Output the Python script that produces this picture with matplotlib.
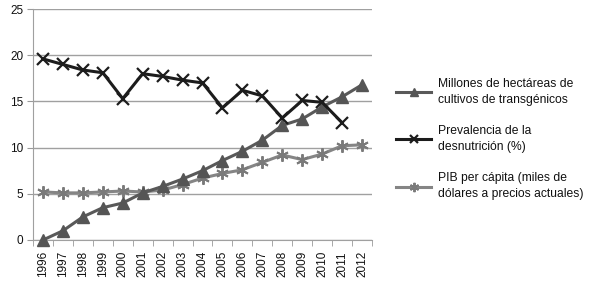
import matplotlib
matplotlib.use('Agg')
import matplotlib.pyplot as plt
import numpy as np

years = ['1996', '1997', '1998', '1999', '2000', '2001', '2002', '2003', '2004',
         '2005', '2006', '2007', '2008', '2009', '2010', '2011', '2012']

# Millones de hectáreas de cultivos transgénicos
transgenicos = [0.0, 1.0, 2.5, 3.5, 4.0, 5.1, 5.8, 6.6, 7.5, 8.6, 9.6, 10.8,
                12.4, 13.1, 14.4, 15.5, 16.8]
# Prevalencia de la desnutrición (%), sin dato para 2012
desnutricion = [19.6, 19.0, 18.4, 18.1, 15.3, 18.0, 17.7, 17.3, 17.0, 14.3,
                16.2, 15.6, 13.2, 15.1, 14.9, 12.7, np.nan]
# PIB per cápita (miles de dólares)
pib = [5.2, 5.1, 5.1, 5.2, 5.3, 5.2, 5.4, 6.0, 6.7, 7.2, 7.6, 8.4, 9.2, 8.7,
       9.3, 10.2, 10.3]

labels = ['Millones de hectáreas de\ncultivos de transgénicos',
          'Prevalencia de la\ndesnutrición (%)',
          'PIB per cápita (miles de\ndólares a precios actuales)']

plt.rcParams['font.family'] = ['Liberation Sans', 'DejaVu Sans']
plt.rcParams['font.size'] = 8.5

fig = plt.figure(figsize=(5.89, 2.83), dpi=100)
W, H = 589, 283
ax = fig.add_axes([33 / W, 1 - 240 / H, 339 / W, 231 / H])

x = np.arange(len(years))

ax.plot(x, transgenicos, color='#595959', lw=2.2, marker='^', ms=8,
        mfc='#555555', mec='#555555', clip_on=False, zorder=4, label=labels[0])
ax.plot(x, desnutricion, color='#1c1c1c', lw=2.2, marker='x', ms=8.5, mew=1.6,
        clip_on=False, zorder=5, label=labels[1])
ax.plot(x, pib, color='#858585', lw=2.2, marker=(6, 2, 0), ms=9, mew=1.4,
        mec='#7a7a7a', clip_on=False, zorder=3, label=labels[2])

ax.set_xlim(-0.5, len(years) - 0.5)
ax.set_ylim(0, 25)
ax.set_yticks(np.arange(0, 26, 5))
ax.set_xticks(x)
ax.set_xticklabels(years, rotation=90)
ax.set_xticks(np.arange(-0.5, len(years), 1), minor=True)

ax.tick_params(axis='x', which='major', length=0, pad=8, colors='#111111')
ax.tick_params(axis='x', which='minor', length=4, color='#9a9a9a')
ax.tick_params(axis='y', length=4, color='#9a9a9a', labelcolor='#111111', pad=3)

ax.grid(axis='y', color='#a0a0a0', lw=1)
ax.set_axisbelow(True)
for s in ['top', 'right']:
    ax.spines[s].set_visible(False)
ax.spines['left'].set_color('#a0a0a0')
ax.spines['bottom'].set_color('#a0a0a0')

leg = fig.legend(loc='center left', bbox_to_anchor=(390 / W, 1 - 139 / H),
                 frameon=False, handlelength=2.9, handletextpad=0.55,
                 labelspacing=1.6, borderpad=0, markerscale=0.75,
                 fontsize=8.7)
for t in leg.get_texts():
    t.set_linespacing(1.45)
    t.set_color('#111111')

plt.savefig('out.png', dpi=100)
